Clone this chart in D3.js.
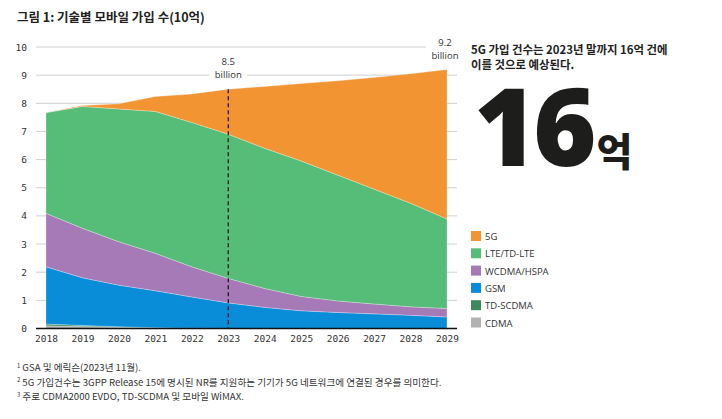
<!DOCTYPE html>
<html>
<head>
<meta charset="utf-8">
<script src="https://cdn.jsdelivr.net/npm/d3@7"></script>
<style>
  body { margin: 0; background: #fff; }
  svg { display: block; }
</style>
</head>
<body>
<svg id="chart" width="722" height="419"></svg>
<script>
// years on the x axis
const years = [2018, 2019, 2020, 2021, 2022, 2023, 2024, 2025, 2026, 2027, 2028, 2029];

// subscriptions per technology, billions
const cdma    = [0.10, 0.07, 0.04, 0.02, 0.01, 0, 0, 0, 0, 0, 0, 0];
const tdscdma = [0.06, 0.04, 0.02, 0.01, 0, 0, 0, 0, 0, 0, 0, 0];
const gsm     = [2.03, 1.69, 1.48, 1.31, 1.11, 0.91, 0.75, 0.63, 0.57, 0.52, 0.47, 0.41];
const wcdma   = [1.90, 1.76, 1.54, 1.33, 1.07, 0.87, 0.67, 0.51, 0.41, 0.35, 0.30, 0.30];
const lte     = [3.58, 4.33, 4.72, 5.04, 5.13, 5.12, 4.98, 4.81, 4.47, 4.08, 3.68, 3.18];
const nr5g    = [0, 0.03, 0.18, 0.53, 1.01, 1.60, 2.20, 2.75, 3.35, 3.97, 4.60, 5.31];

const yTicks = [0, 1, 2, 3, 4, 5, 6, 7, 8, 9, 10];

// stack order bottom -> top
const keys = ["CDMA", "TD-SCDMA", "GSM", "WCDMA/HSPA", "LTE/TD-LTE", "5G"];
const colors = {
  "5G": "#f39433",
  "LTE/TD-LTE": "#56bd78",
  "WCDMA/HSPA": "#a679b7",
  "GSM": "#0a8dd8",
  "TD-SCDMA": "#3b8a5c",
  "CDMA": "#b2b2b2"
};
const legendOrder = ["5G", "LTE/TD-LTE", "WCDMA/HSPA", "GSM", "TD-SCDMA", "CDMA"];

const rows = years.map((y, i) => ({
  year: y,
  "CDMA": cdma[i],
  "TD-SCDMA": tdscdma[i],
  "GSM": gsm[i],
  "WCDMA/HSPA": wcdma[i],
  "LTE/TD-LTE": lte[i],
  "5G": nr5g[i]
}));

const svg = d3.select("#chart");
const cjk = "'Noto Sans CJK KR', 'Noto Sans', sans-serif";
const mono = "'DejaVu Sans Mono', monospace";

const x = d3.scaleLinear().domain([2018, 2029]).range([46, 447]);
const y = d3.scaleLinear().domain([0, 10]).range([328.5, 47]);
const gridX0 = 36, gridX1 = 457;

// title
svg.append("text")
  .attr("x", 17).attr("y", 22)
  .attr("font-family", cjk).attr("font-weight", 700)
  .attr("font-size", 12.5).attr("fill", "#222")
  .text("그림 1: 기술별 모바일 가입 수(10억)");

// gridlines
svg.append("g").selectAll("line")
  .data(yTicks.filter(d => d > 0))
  .join("line")
  .attr("x1", gridX0).attr("x2", gridX1)
  .attr("y1", d => y(d)).attr("y2", d => y(d))
  .attr("stroke", "#cfcfd4").attr("stroke-width", 1);

// y tick labels
svg.append("g").selectAll("text")
  .data(yTicks)
  .join("text")
  .attr("x", 27).attr("y", d => y(d) + 3.5)
  .attr("text-anchor", "end")
  .attr("font-family", mono).attr("font-size", 9.5).attr("fill", "#333")
  .text(d => d);

// stacked areas
const series = d3.stack().keys(keys)(rows);
const area = d3.area()
  .x(d => x(d.data.year))
  .y0(d => y(d[0]))
  .y1(d => y(d[1]));

svg.append("g").selectAll("path")
  .data(series)
  .join("path")
  .attr("d", area)
  .attr("fill", d => colors[d.key])
  .attr("stroke", "#ffffff").attr("stroke-opacity", 0.45).attr("stroke-width", 0.6);

// baseline
svg.append("line")
  .attr("x1", gridX0).attr("x2", gridX1)
  .attr("y1", y(0)).attr("y2", y(0))
  .attr("stroke", "#111").attr("stroke-width", 1.5);

// x tick labels
const xAxis = d3.axisBottom(x).tickValues(years).tickFormat(d3.format("d")).tickSize(0).tickPadding(7);
const gx = svg.append("g").attr("transform", `translate(0,${y(0)})`).call(xAxis);
gx.select(".domain").remove();
gx.selectAll("text").attr("font-family", mono).attr("font-size", 9.5).attr("fill", "#333");

// totals and annotations
const total = i => keys.reduce((s, k) => s + rows[i][k], 0);
const i23 = years.indexOf(2023);
const i29 = years.indexOf(2029);

svg.append("line")
  .attr("x1", x(2023)).attr("x2", x(2023))
  .attr("y1", y(total(i23))).attr("y2", y(0))
  .attr("stroke", "#111").attr("stroke-width", 1.2)
  .attr("stroke-dasharray", "4,3");

const notes = [
  { year: 2023, value: "8.5", top: y(total(i23)) - 24 },
  { year: 2029, value: "9.2", top: y(total(i29)) - 24 }
];
notes.forEach(n => {
  const cx = n.year === 2029 ? x(n.year) - 2 : x(n.year);
  svg.append("rect")
    .attr("x", cx - 19).attr("y", n.top - 9)
    .attr("width", 38).attr("height", 26)
    .attr("fill", "#fff");
  const t = svg.append("text")
    .attr("x", cx).attr("text-anchor", "middle")
    .attr("font-family", "'Open Sans', 'DejaVu Sans', sans-serif")
    .attr("font-size", 9.5).attr("fill", "#333");
  t.append("tspan").attr("x", cx).attr("y", n.top).text(n.value);
  t.append("tspan").attr("x", cx).attr("y", n.top + 13).text("billion");
});

// right side callout
svg.append("text")
  .attr("x", 471).attr("y", 54)
  .attr("font-family", cjk).attr("font-weight", 700)
  .attr("font-size", 11.4).attr("fill", "#222")
  .text("5G 가입 건수는 2023년 말까지 16억 건에");
svg.append("text")
  .attr("x", 471).attr("y", 69)
  .attr("font-family", cjk).attr("font-weight", 700)
  .attr("font-size", 11.4).attr("fill", "#222")
  .text("이를 것으로 예상된다.");

const big = svg.append("text")
  .attr("x", 474).attr("y", 166)
  .attr("font-family", "'Noto Sans', 'DejaVu Sans', sans-serif")
  .attr("font-weight", 900).attr("fill", "#1d1d1b");
big.append("tspan").attr("font-size", 108).attr("letter-spacing", -4).text("16");
big.append("tspan").attr("font-family", cjk).attr("font-size", 39).attr("dx", 4).text("억");

// legend
const lg = svg.append("g").selectAll("g")
  .data(legendOrder)
  .join("g")
  .attr("transform", (d, i) => `translate(471,${231 + i * 17.3})`);
lg.append("rect").attr("width", 10).attr("height", 10).attr("fill", d => colors[d]);
lg.append("text")
  .attr("x", 14).attr("y", 9)
  .attr("font-family", "'Open Sans', 'DejaVu Sans', sans-serif")
  .attr("font-size", 9.5).attr("fill", "#333")
  .text(d => d);

// footnotes
const footnotes = [
  ["1", "GSA 및 에릭슨(2023년 11월)."],
  ["2", "5G 가입건수는 3GPP Release 15에 명시된 NR를 지원하는 기기가 5G 네트워크에 연결된 경우를 의미한다."],
  ["3", "주로 CDMA2000 EVDO, TD-SCDMA 및 모바일 WiMAX."]
];
footnotes.forEach((f, i) => {
  const t = svg.append("text")
    .attr("x", 17).attr("y", 371 + i * 14.5)
    .attr("font-family", cjk).attr("font-size", 9.6).attr("fill", "#333");
  t.append("tspan").attr("font-size", 6).attr("dy", -3.5).text(f[0]);
  t.append("tspan").attr("dx", 2).attr("dy", 3.5).text(f[1]);
});
</script>
</body>
</html>
